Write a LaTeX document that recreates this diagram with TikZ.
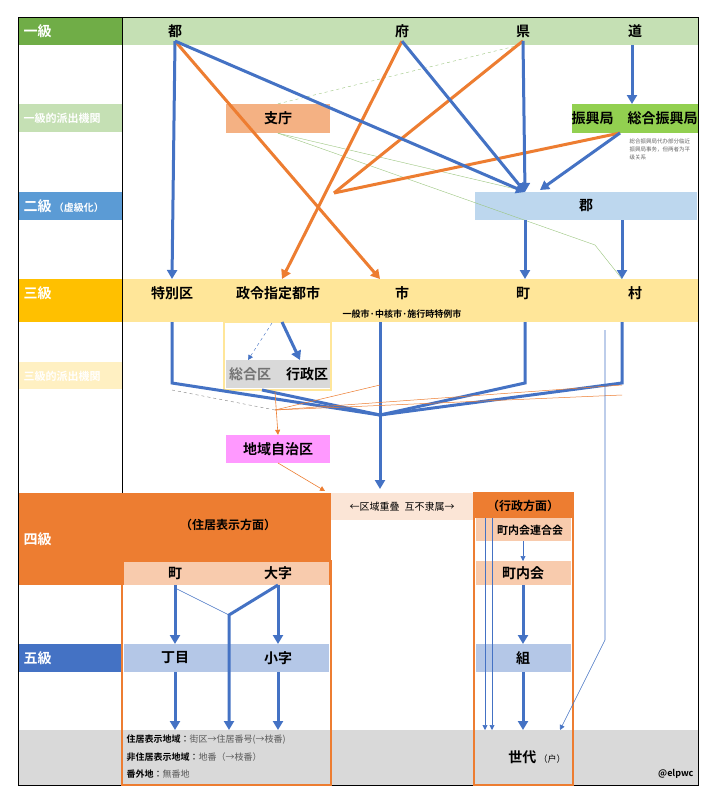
\documentclass[tikz,border=0pt]{standalone}
\usepackage{fontspec}
\setmainfont{Noto Sans CJK JP}[BoldFont={Noto Sans CJK JP Bold}]
\usetikzlibrary{arrows.meta}
\definecolor{gD}{HTML}{70AD47}\definecolor{gL}{HTML}{C5E0B4}\definecolor{gM}{HTML}{92D050}
\definecolor{bM}{HTML}{5B9BD5}\definecolor{bL}{HTML}{BDD7EE}\definecolor{bD}{HTML}{4472C4}\definecolor{bP}{HTML}{B4C7E7}
\definecolor{yD}{HTML}{FFC000}\definecolor{yL}{HTML}{FFE699}
\definecolor{oD}{HTML}{ED7D31}\definecolor{oL}{HTML}{F8CBAD}\definecolor{oM}{HTML}{F4B183}\definecolor{oP}{HTML}{FBE5D6}
\definecolor{gr}{HTML}{D9D9D9}\definecolor{pk}{HTML}{FF99FF}
\tikzset{
 band/.style={draw=none,inner sep=0},
 lbl/.style={font=\fontsize{14}{14}\selectfont\bfseries,text=white,anchor=west},
 t/.style={font=\fontsize{14}{14}\selectfont\bfseries},
 B/.style={draw=bD,line width=3pt,-{Triangle[length=9pt,width=10pt]}},
 Bn/.style={draw=bD,line width=3pt},
 O/.style={draw=oD,line width=3pt,-{Triangle[length=9pt,width=10pt]}},
 On/.style={draw=oD,line width=3pt},
 tb/.style={draw=bD,line width=0.6pt,-{Triangle[length=5pt,width=5pt]}},
 to/.style={draw=oD,line width=0.6pt,-{Triangle[length=5pt,width=5pt]}},
 tg/.style={draw=gD!70,line width=0.4pt},
}
\begin{document}
\begin{tikzpicture}[x=1pt,y=-1pt]
\useasboundingbox (0,0) rectangle (720,803);
\fill[white] (0,0) rectangle (720,803);
% bands
\fill[gD] (18,17) rectangle (122,45); \fill[gL] (122,17) rectangle (698,45);
\fill[gL] (18,104) rectangle (122,132);
\fill[bM] (18,192) rectangle (122,220);
\fill[yD] (18,279) rectangle (122,322); \fill[yL] (122,279) rectangle (698,322);
\fill[yL!60] (18,362) rectangle (122,389);
\fill[oD] (18,493) rectangle (122,585); \fill[oD] (122,493) rectangle (331,585);
\fill[bD] (18,644) rectangle (122,672);
\fill[gr] (18,730) rectangle (698,785);
\draw[black,line width=0.6pt] (18,17) rectangle (698,785); \draw[black,line width=0.6pt] (122,17)--(122,493);
\node[lbl] (L1) at (20,31) {一級};
\node[lbl,font=\fontsize{11}{11}\selectfont\bfseries] (L1a) at (20,118) {一級的派出機関};
\node[lbl] (L2) at (20,206) {二級\,{\fontsize{10}{10}\selectfont（虚級化）}};
\node[lbl] (L3) at (20,293) {三級};
\node[lbl,font=\fontsize{11}{11}\selectfont\bfseries] (L3a) at (20,376) {三級的派出機関};
\node[lbl] (L4) at (20,539) {四級};
\node[lbl] (L5) at (20,658) {五級};
% top row
\node[t] (to) at (175,31) {都}; \node[t] (fu) at (402,31) {府}; \node[t] (ken) at (523,31) {県}; \node[t] (dou) at (635,31) {道};
\node[band,fill=oM,minimum width=104,minimum height=29,t] (shicho) at (278,118.5) {支庁};
\node[band,fill=gM,minimum width=125,minimum height=29,t] (shinko) at (634.5,118.5) {振興局\quad 総合振興局};
\node[align=left,font=\fontsize{5.5}{8}\selectfont,text=black!60,anchor=north west] (note) at (626,135) {総合振興局代办部分临近\\振興局事务，但两者为平\\级关系};
\node[band,fill=bL,minimum width=222,minimum height=28,t] (gun) at (586,206) {郡};
% third row
\node[t] (tok) at (172,293) {特別区}; \node[t] (sei) at (278,293) {政令指定都市};
\node[t] (shi) at (402,293) {市}; \node[t] (cho) at (523,293) {町}; \node[t] (son) at (635,293) {村};
\node[font=\fontsize{9}{9}\selectfont\bfseries] (ippan) at (402,314) {一般市·中核市·施行時特例市};
\draw[yL,line width=1.5pt] (224,322) rectangle (331,390);
\fill[gr] (226,360) rectangle (330,388);
\node[t,text=black!55] (sogo) at (250,374) {総合区}; \node[t] (gyo) at (307,374) {行政区};
\node[band,fill=pk,minimum width=104,minimum height=28,t] (chiiki) at (278,449) {地域自治区};
% fourth
\node[font=\fontsize{12}{12}\selectfont\bfseries] (jukyo) at (228,525) {（住居表示方面）};
\fill[oL] (124,561) rectangle (329,585);
\node[t] (machi) at (175,573) {町}; \node[t] (oaza) at (278,573) {大字};
\fill[oP] (331,493) rectangle (474,520);
\node[font=\fontsize{10}{10}\selectfont] (kaku) at (402,507) {←区域重叠\enspace 互不隶属→};
\fill[oD] (474,493) rectangle (573,518);
\node[font=\fontsize{12}{12}\selectfont\bfseries] (gyosei) at (523,506) {（行政方面）};
\fill[oL] (476,518) rectangle (571,541); \node[font=\fontsize{11}{11}\selectfont\bfseries] (rengo) at (530,530) {町内会連合会};
\fill[oL] (476,561) rectangle (571,585); \node[t] (chonai) at (523,573) {町内会};
\fill[bP] (124,644) rectangle (329,672); \fill[bP] (476,644) rectangle (571,672);
\node[t] (chome) at (175,658) {丁目}; \node[t] (koaza) at (278,658) {小字}; \node[t] (kumi) at (523,658) {組};
\draw[oD,line width=2pt] (122,561) rectangle (331,785);
\draw[oD,line width=2pt] (474,493) rectangle (573,785);
\node[anchor=west,font=\fontsize{9}{9}\selectfont] (j1) at (123,740) {\textbf{住居表示地域}：{\color{black!65}街区→住居番号(→枝番)}};
\node[anchor=west,font=\fontsize{9}{9}\selectfont] (j2) at (123,757) {\textbf{非住居表示地域}：{\color{black!65}地番（→枝番）}};
\node[anchor=west,font=\fontsize{9}{9}\selectfont] (j3) at (123,774) {\textbf{番外地}：{\color{black!65}無番地}};
\node[t] (setai) at (537,757) {世代\,{\fontsize{9}{9}\selectfont\mdseries（户）}};
\node[anchor=east,font=\fontsize{9}{9}\selectfont\bfseries] (elp) at (697,774) {@elpwc};
% coordinates
\coordinate (hub) at (334,193);
\coordinate (gunA) at (525,192); \coordinate (gunB) at (540,190);
\coordinate (hub2) at (380,415);
% thin green
\draw[tg] (to.south) -- (520,190); \draw[tg] (shicho.south) -- (520,190);
\draw[tg] (shicho.south) -- (595,245) -- (622,279);
\draw[tg,dashed] (shicho.north) -- (520,45);
% orange
\draw[O] (to.south) -- (380,279);
\draw[On] (ken.south) -- (hub); \draw[On] (620,133) -- (hub);
\draw[O] (fu.south) -- (282,279);
% blue
\draw[B] (to.south) -- (172,279);
\draw[B] (to.south) -- (gunA); \draw[B] (fu.south) -- (gunA); \draw[B] (ken.south) -- (gunA);
\draw[B] (620,133) -- (gunB);
\draw[B] (632,45) -- (632,104);
\draw[B] (525,220) -- (525,279); \draw[B] (622,220) -- (622,279);
% third level down
\draw[Bn] (172,322) -- (172,383) -- (hub2);
\draw[Bn] (525,322) -- (525,383) -- (hub2);
\draw[Bn] (622,322) -- (622,383) -- (hub2);
\draw[Bn] (262,390) -- (hub2);
\draw[B] (282,322) -- (300,360);
\draw[tb,dashed,line width=0.4pt] (272,323) -- (248,360);
\draw[B] (380,322) -- (380,489);
\draw[oD,line width=0.5pt] (275,410) -- (380,385); \draw[oD,line width=0.5pt] (275,410) -- (622,395);
\draw[oD,line width=0.5pt] (275,410) -- (622,385);
\draw[gray,dashed,line width=0.4pt] (172,390) -- (275,410);
\draw[to] (275,392) -- (chiiki.north);
\draw[to] (278,463) -- (325,491);
\draw[tb] (605,330) -- (605,640) -- (560,730);
% fourth / fifth
\draw[tb] (492,518) -- (492,730); \draw[tb] (485,518) -- (485,730);
\draw[tb] (523,541) -- (523,561);
\draw[B] (523,585) -- (523,644); \draw[B] (523,672) -- (523,730);
\draw[B] (175,585) -- (175,644); \draw[B] (278,585) -- (278,644);
\draw[B] (278,585) -- (229,615) -- (229,730);
\draw[bD,line width=0.5pt] (175,588) -- (229,615);
\draw[B] (175,672) -- (175,730); \draw[B] (278,672) -- (278,730);
\end{tikzpicture}
\end{document}
